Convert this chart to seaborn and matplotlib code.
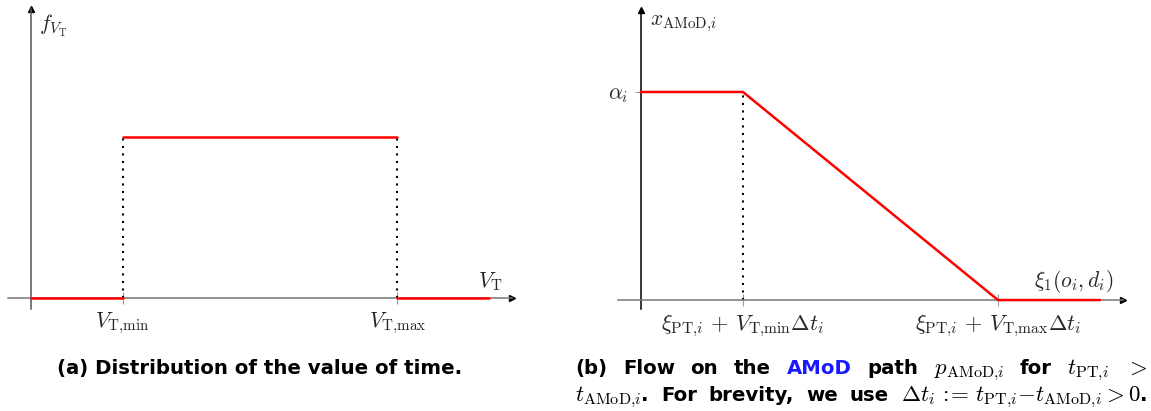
import matplotlib
matplotlib.use("Agg")
import matplotlib.pyplot as plt
import seaborn as sns
import pandas as pd

# ---------------- data ----------------
# (a) uniform distribution of the value of time
vt_x = [0.0, 1.0, 1.0, 4.0, 4.0, 5.0]          # V_T values (0, V_min, V_min, V_max, V_max, end)
vt_seg = ["low", "low", "mid", "mid", "high", "high"]
v_min, v_max = 1.0, 4.0
density = 1.0 / (v_max - v_min)
vt_f = [0.0, 0.0, density, density, 0.0, 0.0]
left_ticks = [v_min, v_max]
left_ticklabels = [r"$V_{\mathrm{T}{,}\mathrm{min}}$", r"$V_{\mathrm{T}{,}\mathrm{max}}$"]

# (b) flow on the AMoD path
xi_x = [0.0, 1.0, 3.5, 4.5]                    # xi_1(o_i, d_i)
amod_y = [1.0, 1.0, 0.0, 0.0]                  # x_AMoD,i
xi_lo, xi_hi, alpha = 1.0, 3.5, 1.0
right_ticks = [xi_lo, xi_hi]
right_ticklabels = [r"$\xi_{\mathrm{PT}{,}i}\,+\,V_{\mathrm{T}{,}\mathrm{min}}\Delta t_i$",
                    r"$\xi_{\mathrm{PT}{,}i}\,+\,V_{\mathrm{T}{,}\mathrm{max}}\Delta t_i$"]
right_yticks = [alpha]
right_yticklabels = [r"$\alpha_i$"]

df_a = pd.DataFrame({"V": vt_x, "f": vt_f, "seg": vt_seg})
df_b = pd.DataFrame({"xi": xi_x, "x": amod_y})

# ---------------- style ----------------
sns.set_theme(style="white")
plt.rcParams["mathtext.fontset"] = "cm"
plt.rcParams["font.family"] = ["DejaVu Sans"]

W, H = 1151, 411
fig = plt.figure(figsize=(W / 100, H / 100), dpi=100)


def add_axes_px(x0, y_top, x1, y_bot):
    return fig.add_axes([x0 / W, 1 - y_bot / H, (x1 - x0) / W, (y_bot - y_top) / H])


RED = "#ff0000"
AXC = "#555555"
LBL = 15.5

# ---------------- panel (a) ----------------
axa = add_axes_px(8, 9, 512, 309)
sns.lineplot(data=df_a, x="V", y="f", units="seg", estimator=None, sort=False,
             color=RED, lw=1.8, ax=axa, zorder=3)
for v in (v_min, v_max):
    axa.plot([v, v], [0, density], color="black", lw=1.5, ls=(0, (1, 2.6)), zorder=2)
axa.set_xlim(-0.25, 5.25)
axa.set_ylim(-0.0234, 0.6)

# ---------------- panel (b) ----------------
axb = add_axes_px(618, 10, 1123, 309)
sns.lineplot(data=df_b, x="xi", y="x", estimator=None, sort=False,
             color=RED, lw=1.8, ax=axb, zorder=3)
axb.plot([xi_lo, xi_lo], [0, alpha], color="black", lw=1.5, ls=(0, (1, 2.6)), zorder=2)
axb.set_xlim(-0.225, 4.725)
axb.set_ylim(-0.043, 1.394)

for ax, ycol in ((axa, AXC), (axb, "black")):
    ax.set_xlabel("")
    ax.set_ylabel("")
    ax.spines["top"].set_visible(False)
    ax.spines["right"].set_visible(False)
    ax.spines["left"].set_position(("data", 0))
    ax.spines["bottom"].set_position(("data", 0))
    ax.spines["bottom"].set_color("#777777")
    ax.spines["left"].set_color(ycol)
    ax.spines["bottom"].set_linewidth(1.1)
    ax.spines["left"].set_linewidth(1.1)
    ax.patch.set_alpha(0)
    # arrow heads
    ax.plot(1, 0, marker=">", ms=5, color="black", transform=ax.get_yaxis_transform(), clip_on=False)
    ax.plot(0, 1, marker="^", ms=5, color="black", transform=ax.get_xaxis_transform(), clip_on=False)

axa.set_xticks(left_ticks)
axa.set_xticklabels(left_ticklabels, fontsize=LBL)
axa.set_yticks([])
axa.tick_params(axis="x", direction="inout", length=8, width=0.8, color="#999999", pad=5, bottom=True)

axb.set_xticks(right_ticks)
axb.set_xticklabels(right_ticklabels, fontsize=16)
axb.set_yticks(right_yticks)
axb.set_yticklabels(right_yticklabels, fontsize=LBL)
axb.tick_params(axis="x", direction="inout", length=8, width=0.8, color="#999999", pad=5, bottom=True)
axb.tick_params(axis="y", direction="out", length=4, width=0.8, color="#999999", pad=5, left=True)

# axis labels
axa.annotate(r"$f_{V_{\mathrm{T}}}$", xy=(0, 1), xycoords=("data", "axes fraction"),
             xytext=(6, -12), textcoords="offset points", ha="left", va="center", fontsize=LBL)
axa.annotate(r"$V_{\mathrm{T}}$", xy=(1, 0), xycoords=("axes fraction", "data"),
             xytext=(-6.5, 11.5), textcoords="offset points", ha="right", va="center", fontsize=LBL)
axb.annotate(r"$x_{\mathrm{AMoD}{,}i}$", xy=(0, 1), xycoords=("data", "axes fraction"),
             xytext=(6.5, -10), textcoords="offset points", ha="left", va="center", fontsize=LBL)
axb.annotate(r"$\xi_1(o_i,d_i)$", xy=(1, 0), xycoords=("axes fraction", "data"),
             xytext=(-7, 13), textcoords="offset points", ha="right", va="center", fontsize=LBL)

# ---------------- captions ----------------
CAP = 14.2
CAPM = 16.5
CAPFAM = ["DejaVu Sans"]
BLUE = "#1a1aff"


def make_piece(s, color="black", math=False):
    if math:
        return fig.text(0, 0, s, color=color, fontsize=CAPM, va="baseline", ha="left")
    return fig.text(0, 0, s, color=color, fontsize=CAP, fontweight="bold", family=CAPFAM,
                    va="baseline", ha="left")


def place_line(words, x0, x1, ybase, justify=True):
    objs = [[make_piece(*p) for p in w] for w in words]
    fig.canvas.draw()
    r = fig.canvas.get_renderer()
    widths = [[t.get_window_extent(r).width for t in w] for w in objs]
    total = sum(sum(w) for w in widths)
    gap = (x1 - x0 - total) / (len(words) - 1) if justify else 5
    x = x0
    for w, ws in zip(objs, widths):
        for t, wd in zip(w, ws):
            t.set_position((x / W, 1 - ybase / H))
            x += wd
        x += gap


place_line([[("(a) Distribution of the value of time.",)]], 57, 462, 374, justify=False)

line1 = [[("(b)",)], [("Flow",)], [("on",)], [("the",)], [("AMoD", BLUE)], [("path",)],
         [(r"$p_{\mathrm{AMoD}{,}i}$", "black", True)], [("for",)],
         [(r"$t_{\mathrm{PT}{,}i}$", "black", True)], [(r"$>$", "black", True)]]
line2 = [[(r"$t_{\mathrm{AMoD}{,}i}$", "black", True), (".",)], [("For",)], [("brevity,",)],
         [("we",)], [("use",)],
         [(r"$\Delta t_i\,{:}\!\!{=}\,t_{\mathrm{PT}{,}i}{-}t_{\mathrm{AMoD}{,}i} > 0$", "black", True), (".",)]]
place_line(line1, 575, 1147, 374)
place_line(line2, 575, 1148, 401)

fig.savefig("out.png", dpi=100)
